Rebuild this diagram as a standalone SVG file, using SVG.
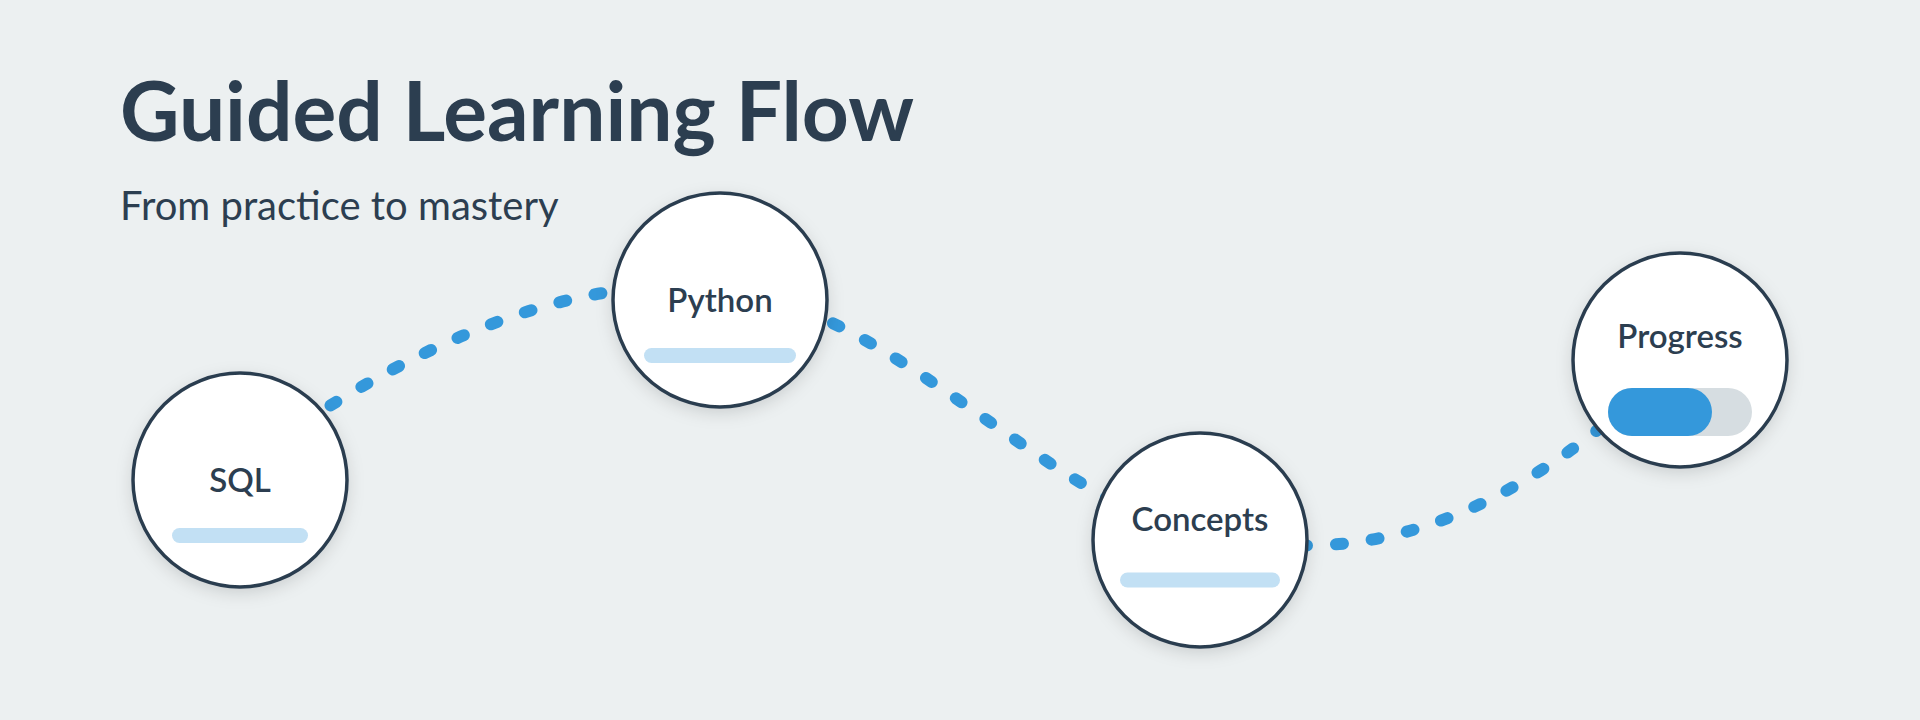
<svg xmlns="http://www.w3.org/2000/svg" width="1920" height="720" viewBox="0 0 1920 720">
  <style>
    .title { font-family: Lato, "Open Sans", "Liberation Sans", sans-serif; font-weight: 700; fill: #2c3e50; }
    .subtitle { font-family: Lato, "Open Sans", "Liberation Sans", sans-serif; font-weight: 400; fill: #2c3e50; }
    .node-circle { fill: #ffffff; stroke: #2c3e50; stroke-width: 3.5; filter: url(#shadow); }
    .label { font-family: Lato, "Open Sans", "Liberation Sans", sans-serif; font-weight: 600; font-size: 33px; fill: #2c3e50; text-anchor: middle; }
    .bar { fill: #c2e0f4; }
    .track { fill: #d6dde1; }
    .fillbar { fill: #3498db; }
    .link { fill: none; stroke: #3498db; stroke-width: 12; stroke-linecap: round; stroke-dasharray: 7 29; }
  </style>
  <defs>
    <filter id="shadow" x="-30%" y="-30%" width="160%" height="160%">
      <feDropShadow dx="0" dy="5" stdDeviation="8" flood-color="#000000" flood-opacity="0.13"/>
    </filter>
  </defs>
  <rect x="0" y="0" width="1920" height="720" fill="#ecf0f1"/>
  <text class="title" x="120" y="141" font-size="82">Guided Learning Flow</text>
  <text class="subtitle" x="120" y="220" font-size="40">From practice to mastery</text>
  <g id="connectors">
    <path class="link" d="M300,425 Q474,310 620,290.4"/>
    <path class="link" d="M800,309 C903,348 1007,443 1110,500"/>
    <path class="link" d="M1300,545.5 Q1454,548 1610,420"/>
  </g>
  <g id="node-sql">
    <circle class="node-circle" cx="240" cy="480" r="107"/>
    <text class="label" x="240" y="492">SQL</text>
    <rect class="bar" x="172" y="528" width="136" height="15" rx="7.5"/>
  </g>
  <g id="node-python">
    <circle class="node-circle" cx="720" cy="300" r="107"/>
    <text class="label" x="720" y="312">Python</text>
    <rect class="bar" x="644" y="348" width="152" height="15" rx="7.5"/>
  </g>
  <g id="node-concepts">
    <circle class="node-circle" cx="1200" cy="540" r="107"/>
    <text class="label" x="1200" y="531">Concepts</text>
    <rect class="bar" x="1120" y="572.5" width="160" height="15" rx="7.5"/>
  </g>
  <g id="node-progress">
    <circle class="node-circle" cx="1680" cy="360" r="107"/>
    <text class="label" x="1680" y="348">Progress</text>
    <rect class="track" x="1608" y="388" width="144" height="48" rx="24"/>
    <rect class="fillbar" x="1608" y="388" width="104" height="48" rx="24"/>
  </g>
</svg>
